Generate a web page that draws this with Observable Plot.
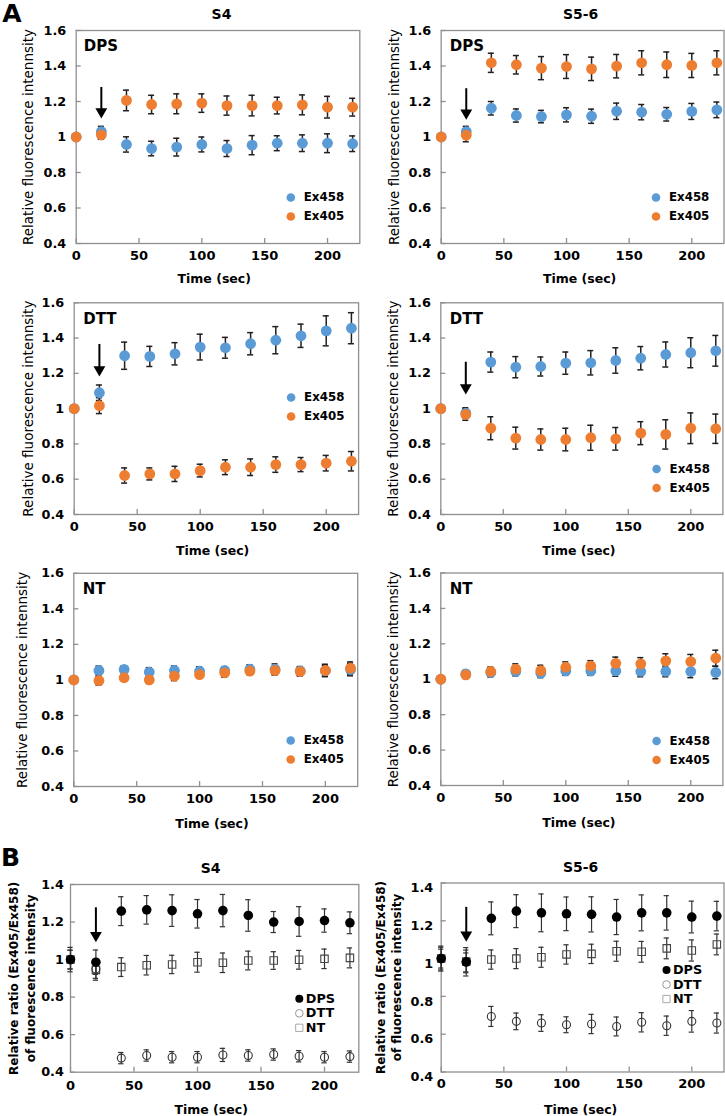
<!DOCTYPE html>
<html><head><meta charset="utf-8">
<script src="https://cdn.jsdelivr.net/npm/d3@7"></script>
<script src="https://cdn.jsdelivr.net/npm/@observablehq/plot@0.6"></script>
<style>
body{margin:0;background:#fff;}
#fig{position:relative;width:725px;height:1116px;overflow:hidden;background:#fff;}
#fig > div{position:absolute;}
svg{overflow:visible}
</style></head><body><div id="fig"></div>
<script>
// ---------- data ----------
const time = [0, 20, 40, 60, 80, 100, 120, 140, 160, 180, 200, 220];
const xTicks = [0, 50, 100, 150, 200];
const yTicksA = [0.4, 0.6, 0.8, 1.0, 1.2, 1.4, 1.6];
const yTicksB = [0.4, 0.6, 0.8, 1.0, 1.2, 1.4];

// Panel A, S4
const s4DpsEx458    = [1.00, 1.030, 0.958, 0.935, 0.943, 0.958, 0.935, 0.954, 0.965, 0.965, 0.965, 0.962];
const s4DpsEx458Err = [0, 0.030, 0.043, 0.041, 0.050, 0.042, 0.045, 0.054, 0.042, 0.047, 0.053, 0.044];
const s4DpsEx405    = [1.00, 1.012, 1.206, 1.183, 1.187, 1.191, 1.177, 1.177, 1.177, 1.181, 1.168, 1.168];
const s4DpsEx405Err = [0, 0.025, 0.058, 0.052, 0.056, 0.052, 0.054, 0.058, 0.047, 0.056, 0.061, 0.050];

const s4DttEx458    = [1.00, 1.090, 1.300, 1.296, 1.311, 1.349, 1.345, 1.368, 1.388, 1.413, 1.441, 1.456];
const s4DttEx458Err = [0, 0.044, 0.077, 0.057, 0.063, 0.073, 0.059, 0.063, 0.077, 0.066, 0.085, 0.088];
const s4DttEx405    = [1.00, 1.017, 0.621, 0.630, 0.630, 0.649, 0.668, 0.668, 0.683, 0.683, 0.691, 0.702];
const s4DttEx405Err = [0, 0.045, 0.043, 0.034, 0.043, 0.036, 0.042, 0.047, 0.044, 0.040, 0.044, 0.055];

const s4NtEx458    = [1.00, 1.053, 1.059, 1.044, 1.053, 1.049, 1.053, 1.060, 1.060, 1.050, 1.052, 1.058];
const s4NtEx458Err = [0, 0.025, 0.020, 0.025, 0.025, 0.025, 0.020, 0.025, 0.030, 0.025, 0.030, 0.035];
const s4NtEx405    = [1.00, 0.996, 1.012, 1.000, 1.021, 1.030, 1.040, 1.049, 1.053, 1.047, 1.053, 1.066];
const s4NtEx405Err = [0, 0.025, 0.015, 0.020, 0.025, 0.020, 0.025, 0.020, 0.025, 0.025, 0.035, 0.035];

// Panel A, S5-6
const s56DpsEx458    = [1.00, 1.030, 1.162, 1.121, 1.115, 1.125, 1.117, 1.145, 1.140, 1.128, 1.144, 1.153];
const s56DpsEx458Err = [0, 0.030, 0.038, 0.037, 0.035, 0.040, 0.040, 0.046, 0.043, 0.038, 0.045, 0.044];
const s56DpsEx405    = [1.00, 1.010, 1.418, 1.407, 1.388, 1.397, 1.384, 1.399, 1.418, 1.407, 1.403, 1.418];
const s56DpsEx405Err = [0, 0.037, 0.054, 0.052, 0.065, 0.067, 0.066, 0.066, 0.068, 0.072, 0.068, 0.068];

const s56DttEx458    = [1.00, 0.975, 1.264, 1.235, 1.239, 1.258, 1.260, 1.273, 1.286, 1.307, 1.317, 1.328];
const s56DttEx458Err = [0, 0.030, 0.057, 0.060, 0.054, 0.063, 0.069, 0.072, 0.066, 0.071, 0.085, 0.087];
const s56DttEx405    = [1.00, 0.967, 0.889, 0.833, 0.825, 0.825, 0.835, 0.829, 0.861, 0.854, 0.889, 0.886];
const s56DttEx405Err = [0, 0.033, 0.065, 0.062, 0.060, 0.064, 0.071, 0.064, 0.065, 0.083, 0.087, 0.083];

const s56NtEx458    = [1.00, 1.030, 1.038, 1.044, 1.034, 1.047, 1.047, 1.047, 1.044, 1.044, 1.044, 1.038];
const s56NtEx458Err = [0, 0.020, 0.025, 0.025, 0.025, 0.025, 0.025, 0.030, 0.030, 0.030, 0.035, 0.035];
const s56NtEx405    = [1.00, 1.025, 1.044, 1.057, 1.049, 1.068, 1.075, 1.090, 1.087, 1.104, 1.100, 1.119];
const s56NtEx405Err = [0, 0.020, 0.025, 0.030, 0.030, 0.030, 0.030, 0.035, 0.035, 0.040, 0.040, 0.045];

// Panel B, ratio Ex405/Ex458
const s4RatioDps    = [1.000, 0.986, 1.258, 1.265, 1.261, 1.244, 1.261, 1.235, 1.200, 1.203, 1.208, 1.196];
const s4RatioDpsErr = [0.065, 0.065, 0.077, 0.076, 0.084, 0.076, 0.086, 0.084, 0.056, 0.079, 0.062, 0.058];
const s4RatioDtt    = [1.000, 0.950, 0.475, 0.489, 0.480, 0.480, 0.492, 0.489, 0.494, 0.485, 0.480, 0.483];
const s4RatioDttErr = [0.050, 0.050, 0.030, 0.030, 0.030, 0.030, 0.035, 0.030, 0.030, 0.030, 0.030, 0.030];
const s4RatioNt     = [1.000, 0.945, 0.960, 0.970, 0.974, 0.986, 0.983, 0.995, 0.995, 0.999, 1.004, 1.009];
const s4RatioNtErr  = [0.050, 0.055, 0.050, 0.052, 0.049, 0.053, 0.052, 0.050, 0.047, 0.050, 0.052, 0.053];

const s56RatioDps    = [1.000, 0.983, 1.213, 1.251, 1.242, 1.237, 1.234, 1.220, 1.242, 1.242, 1.220, 1.225];
const s56RatioDpsErr = [0.066, 0.075, 0.087, 0.087, 0.100, 0.089, 0.093, 0.093, 0.095, 0.091, 0.084, 0.078];
const s56RatioDtt    = [1.000, 0.980, 0.694, 0.668, 0.659, 0.650, 0.654, 0.641, 0.663, 0.645, 0.668, 0.659];
const s56RatioDttErr = [0.050, 0.050, 0.053, 0.044, 0.044, 0.042, 0.051, 0.050, 0.051, 0.051, 0.057, 0.053];
const s56RatioNt     = [1.000, 0.985, 0.995, 1.000, 1.007, 1.022, 1.025, 1.039, 1.036, 1.054, 1.043, 1.075];
const s56RatioNtErr  = [0.060, 0.060, 0.051, 0.053, 0.053, 0.051, 0.051, 0.053, 0.055, 0.055, 0.056, 0.055];

// treatment time marker (arrow) at 20 s
const arrowTime = 20;

// ---------- styles ----------
const BLUE = "#5B9BD5", ORANGE = "#ED7D31", GRAY = "#8f8f8f", BAR = "#231f20";
const FONT = "DejaVu Sans";
const labelA = "Relative fluorescence intennsity";
const labelB = "Relative ratio (Ex405/Ex458)\nof fluorescence intensity";
const fmtY = d => String(Math.round(d * 10) / 10);

function rows(vals, errs) { return time.map((t, i) => ({t, v: vals[i], e: errs[i]})); }

function errorMarks(data, stroke, capHalf, sw) {
  const d = data.filter(r => r.e > 0);
  return [
    Plot.ruleX(d, {x: "t", y1: r => r.v - r.e, y2: r => r.v + r.e, stroke, strokeWidth: sw}),
    Plot.ruleY(d, {y: r => r.v + r.e, x1: r => r.t - capHalf, x2: r => r.t + capHalf, stroke, strokeWidth: sw}),
    Plot.ruleY(d, {y: r => r.v - r.e, x1: r => r.t - capHalf, x2: r => r.t + capHalf, stroke, strokeWidth: sw})
  ];
}

function txt(s, o) {
  return Plot.text([s], {text: d => d, textAnchor: "middle", lineAnchor: "middle", ...o});
}

const fig = document.getElementById("fig");

function buildPanel(p) {
  const [left, top, width, height] = p.box;
  const [fl, fr, ft, fb] = p.frame;
  const marks = [
    Plot.frame({stroke: GRAY, strokeWidth: 1.3}),
    Plot.axisX(xTicks, {tickSize: -5, tickFormat: () => "", stroke: GRAY, strokeWidth: 1.3, label: null}),
    Plot.axisX(xTicks, {tickSize: 0, tickPadding: p.xPad, tickFormat: d => String(d), label: null, fontSize: 13}),
    Plot.axisY(p.yTicks, {tickSize: -5, tickFormat: () => "", stroke: GRAY, strokeWidth: 1.3, label: null}),
    Plot.axisY(p.yTicks, {tickSize: 0, tickPadding: p.yPad, tickFormat: fmtY, dy: p.yTickDy || 0, label: null, fontSize: 12.8}),
    txt(p.title, {frameAnchor: "top", dx: p.titleDx, dy: p.titleDy, fontSize: 14}),
    txt("Time (sec)", {frameAnchor: "bottom", dx: p.xLabDx, dy: p.xLabDy, fontSize: 12.5}),
    txt(p.ylabel, {frameAnchor: "left", dx: p.yLabDx, rotate: -90, fontSize: p.yLabSize, fontWeight: p.yLabWeight, lineHeight: 1.38})
  ];
  if (p.letter) marks.push(txt(p.letter.text, {frameAnchor: "top-left", dx: p.letter.dx, dy: p.letter.dy, fontSize: 25}));
  if (p.tag) marks.push(txt(p.tag, {frameAnchor: "top-left", dx: p.tagDx, dy: p.tagDy, textAnchor: "start", fontSize: 15}));
  // series
  for (const s of p.series) marks.push(...errorMarks(s.data, s.bar, s.cap, s.barWidth));
  for (const s of p.series) marks.push(Plot.dot(s.data, {x: "t", y: "v", ...s.dot}));
  // arrow
  if (p.arrow) {
    const a = [{x: arrowTime, top: p.arrow[0], tip: p.arrow[1]}];
    marks.push(Plot.ruleX(a, {x: "x", y1: "top", y2: "tip", stroke: "#000", strokeWidth: 2, insetBottom: 6}));
    marks.push(Plot.dot(a, {x: "x", y: "tip", symbol: "triangle", r: 4.4, rotate: 180, fill: "#000", dy: -6.8}));
  }
  // legend
  p.legend.items.forEach((it, i) => {
    const dy = p.legend.dy + i * p.legend.step;
    marks.push(Plot.dot([it.name], {frameAnchor: "bottom-right", dx: p.legend.dx, dy, ...it.dot}));
    marks.push(Plot.text([it.name], {text: d => d, frameAnchor: "bottom-right", dx: p.legend.dx + p.legend.textDx, dy,
      textAnchor: "start", lineAnchor: "middle", fontSize: p.legend.size}));
  });
  const plot = Plot.plot({
    width, height,
    marginLeft: fl - left, marginRight: left + width - fr, marginTop: ft - top, marginBottom: top + height - fb,
    x: {domain: [0, p.xMax]},
    y: {domain: p.yDomain},
    style: {fontFamily: FONT, fontSize: "12.5px", fontWeight: "bold", color: "#000", background: "transparent", overflow: "visible"},
    marks
  });
  const div = document.createElement("div");
  div.style.left = left + "px";
  div.style.top = top + "px";
  div.appendChild(plot);
  fig.appendChild(div);
}

function aSeries(v458, e458, v405, e405) {
  return [
    {data: rows(v458, e458), bar: BAR, cap: 2.4, barWidth: 1.5, dot: {r: 5.4, fill: BLUE}},
    {data: rows(v405, e405), bar: BAR, cap: 2.4, barWidth: 1.5, dot: {r: 5.4, fill: ORANGE}}
  ];
}
function aLegend(dx, dy) {
  return {dx, dy, step: 19, textDx: 13, size: 11.8, items: [
    {name: "Ex458", dot: {r: 4.3, fill: BLUE}},
    {name: "Ex405", dot: {r: 4.3, fill: ORANGE}}
  ]};
}
function bSeries(dps, dpsE, dtt, dttE, nt, ntE) {
  return [
    {data: rows(nt, ntE), bar: "#333", cap: 2.1, barWidth: 1.2, dot: {symbol: "square", r: 4.2, stroke: "#444", fill: "none", strokeWidth: 1.1}},
    {data: rows(dtt, dttE), bar: "#333", cap: 2.1, barWidth: 1.2, dot: {r: 4, stroke: "#333", fill: "none", strokeWidth: 1.1}},
    {data: rows(dps, dpsE), bar: "#333", cap: 2.1, barWidth: 1.2, dot: {r: 4.8, fill: "#000"}}
  ];
}
function bLegend(dx, dy) {
  return {dx, dy, step: 14.5, textDx: 6.5, size: 12.8, items: [
    {name: "DPS", dot: {r: 4, fill: "#000"}},
    {name: "DTT", dot: {r: 3.8, stroke: "#999", fill: "none", strokeWidth: 1}},
    {name: "NT", dot: {symbol: "square", r: 4.1, stroke: "#aaa", fill: "none", strokeWidth: 1}}
  ]};
}

const common = {xPad: 7, yPad: 10, yDomain: [0.4, 1.6], yTicks: yTicksA, ylabel: labelA, yLabSize: 13.5, yLabWeight: "normal", tagDx: 7.5, tagDy: 15.7};

const panels = [
  {...common, box: [0, 0, 362, 290], frame: [75.7, 359.3, 30, 243], xMax: 225.7, title: "S4", titleDx: 3.5, titleDy: -16,
   yLabDx: -49.2, xLabDx: -3.8, xLabDy: 35, tag: "DPS", letter: {text: "A", dx: -64.2, dy: -16.5},
   series: aSeries(s4DpsEx458, s4DpsEx458Err, s4DpsEx405, s4DpsEx405Err), legend: aLegend(-69, -46), arrow: [1.279, 1.104]},
  {...common, box: [362, 0, 363, 290], frame: [440.7, 723.5, 30, 243], xMax: 225.7, title: "S5-6", titleDx: -2, titleDy: -16,
   yLabDx: -48.2, xLabDx: -3, xLabDy: 35, tag: "DPS", tagDx: 8.6,
   series: aSeries(s56DpsEx458, s56DpsEx458Err, s56DpsEx405, s56DpsEx405Err), legend: aLegend(-68, -46), arrow: [1.272, 1.097]},
  {...common, box: [0, 290, 362, 270], frame: [73.7, 358.1, 302.3, 514], xMax: 225.7, title: "", titleDx: 0, titleDy: 0,
   yLabDx: -47.5, xLabDx: -3.8, xLabDy: 36, tag: "DTT", tagDx: 9, tagDy: 16,
   series: aSeries(s4DttEx458, s4DttEx458Err, s4DttEx405, s4DttEx405Err), legend: aLegend(-67.5, -117), arrow: [1.364, 1.182]},
  {...common, box: [362, 290, 363, 270], frame: [440.3, 722.4, 302.3, 514], xMax: 225.7, title: "", titleDx: 0, titleDy: 0,
   yLabDx: -48.3, xLabDx: -3, xLabDy: 36, tag: "DTT", tagDx: 9, tagDy: 16,
   series: aSeries(s56DttEx458, s56DttEx458Err, s56DttEx405, s56DttEx405Err), legend: aLegend(-66.3, -45.5), arrow: [1.263, 1.08]},
  {...common, box: [0, 560, 362, 290], frame: [73.3, 357.2, 572.8, 786], xMax: 225.7, title: "", titleDx: 0, titleDy: 0,
   yLabDx: -52.3, xLabDx: -3.8, xLabDy: 37.3, tag: "NT", tagDx: 9, tagDy: 16,
   series: aSeries(s4NtEx458, s4NtEx458Err, s4NtEx405, s4NtEx405Err), legend: aLegend(-67, -46)},
  {...common, box: [362, 560, 363, 290], frame: [440.3, 722.4, 572.5, 785], xMax: 225.7, title: "", titleDx: 0, titleDy: 0,
   yLabDx: -49.1, xLabDx: -3, xLabDy: 37.7, tag: "NT", tagDx: 9, tagDy: 16,
   series: aSeries(s56NtEx458, s56NtEx458Err, s56NtEx405, s56NtEx405Err), legend: aLegend(-66.3, -44.5)},
  {box: [0, 850, 362, 266], frame: [70, 358.3, 884, 1071.7], xMax: 227, yDomain: [0.4, 1.4], yTicks: yTicksB,
   xPad: 9, yPad: 6.7, title: "S4", titleDx: -4, titleDy: -16, ylabel: labelB, yLabSize: 12, yLabWeight: "bold",
   yLabDx: -49.2, xLabDx: -3.5, xLabDy: 37.3, letter: {text: "B", dx: -60, dy: -27},
   series: bSeries(s4RatioDps, s4RatioDpsErr, s4RatioDtt, s4RatioDttErr, s4RatioNt, s4RatioNtErr),
   legend: bLegend(-59.5, -73.4), arrow: [1.276, 1.093]},
  {box: [362, 850, 363, 266], frame: [440.7, 723.5, 882.5, 1071.5], xMax: 225.7, yDomain: [0.4, 1.4], yTicks: yTicksB,
   xPad: 7, yPad: 8, yTickDy: 5, title: "S5-6", titleDx: -2, titleDy: -15.5, ylabel: labelB, yLabSize: 12, yLabWeight: "bold",
   yLabDx: -53.3, xLabDx: -2, xLabDy: 37.8,
   series: bSeries(s56RatioDps, s56RatioDpsErr, s56RatioDtt, s56RatioDttErr, s56RatioNt, s56RatioNtErr),
   legend: bLegend(-57.5, -102), arrow: [1.271, 1.089]}
];

panels.forEach(buildPanel);
</script></body></html>
